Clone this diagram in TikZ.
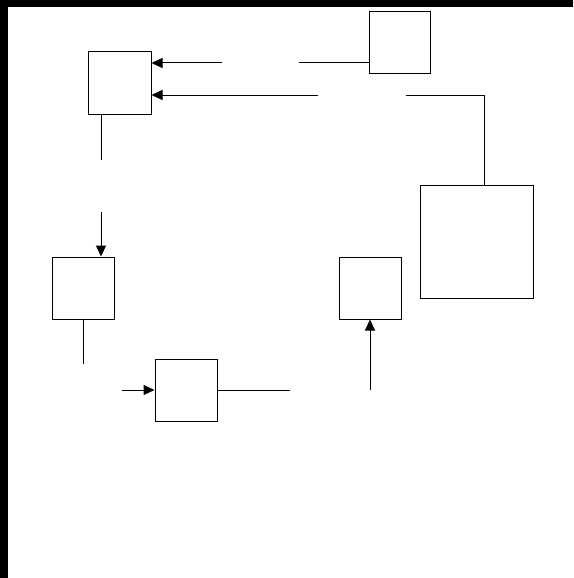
\documentclass[tikz,border=0pt]{standalone}
\usetikzlibrary{arrows.meta}

\begin{document}
\begin{tikzpicture}[
    x=1pt, y=-1pt,
    box/.style={rectangle, draw, line width=1pt, fill=white, inner sep=0pt, minimum width=62pt, minimum height=62pt},
    line/.style={line width=1pt},
    arrow/.style={line, -{Triangle[length=11pt, width=10pt]}}
]
    \useasboundingbox (0,0) rectangle (573,578);
    \fill[black] (0,0) rectangle (573,7.5);
    \fill[black] (0,0) rectangle (7.5,578);

    \node[box, minimum width=63pt] (ctrl) at (119.5,83) {};
    \node[box, minimum width=61pt, minimum height=61pt] (ref) at (400,42.5) {};
    \node[box, minimum width=113pt, minimum height=113pt] (plant) at (476.5,241.5) {};
    \node[box] (act) at (83.5,288) {};
    \node[box] (sens) at (370,288) {};
    \node[box] (proc) at (186,390) {};

    % free ends of the broken connectors
    \coordinate (refout) at (299,63);
    \coordinate (refin) at (222,63);
    \coordinate (fbcorner) at (484,95);
    \coordinate (fbout) at (406,95);
    \coordinate (fbin) at (318,95);
    \coordinate (ctrlout) at (101,160);
    \coordinate (actin) at (101,212);
    \coordinate (actout) at (83,364);
    \coordinate (procin) at (122,390);
    \coordinate (procout) at (290,390);
    \coordinate (sensin) at (370,390);

    \draw[line] (ref.west |- refout) -- (refout);
    \draw[arrow] (refin) -- (ctrl.east |- refin);

    \draw[line] (plant.north -| fbcorner) -- (fbcorner) -- (fbout);
    \draw[arrow] (fbin) -- (ctrl.east |- fbin);

    \draw[line] (ctrl.south -| ctrlout) -- (ctrlout);
    \draw[arrow] (actin) -- (act.north -| actin);

    \draw[line] (act.south -| actout) -- (actout);
    \draw[arrow] (procin) -- (proc.west);

    \draw[line] (proc.east) -- (procout);
    \draw[arrow] (sensin) -- (sens.south);
\end{tikzpicture}
\end{document}
